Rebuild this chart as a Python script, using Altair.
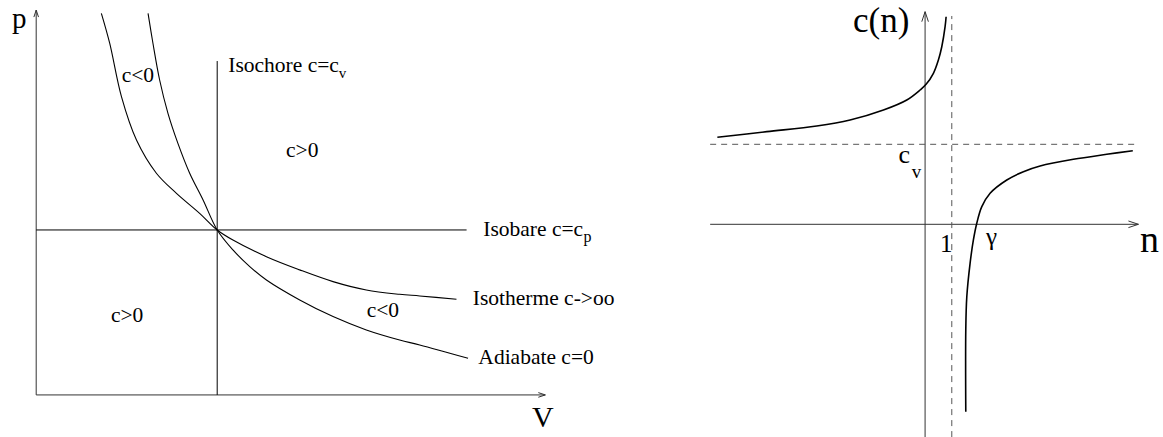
import altair as alt
import pandas as pd

# ---------------- p-V diagram: polytropes through the state (V=1, p=1) ----------------
isotherm_V = [0.360, 0.406, 0.471, 0.554, 0.664, 0.775, 0.903, 1.000, 1.087, 1.272,
              1.456, 1.640, 1.824, 2.008, 2.119, 2.322]
isotherm_p = [2.313, 2.132, 1.808, 1.545, 1.344, 1.222, 1.101, 1.000, 0.939, 0.838,
              0.758, 0.687, 0.636, 0.610, 0.600, 0.580]

adiabat_V = [0.618, 0.645, 0.682, 0.728, 0.783, 0.848, 0.922, 1.000, 1.087, 1.180,
             1.272, 1.456, 1.640, 1.824, 2.008, 2.119, 2.386]
adiabat_p = [2.313, 2.132, 1.909, 1.707, 1.525, 1.344, 1.182, 1.000, 0.879, 0.778,
             0.697, 0.576, 0.475, 0.394, 0.333, 0.303, 0.222]

isochore_V = 1.0
isochore_top = 2.024
isobar_p = 1.0
isobar_end = 2.378

# ---------------- heat capacity c(n) of a polytrope (c_v = 1, n = 1 asymptote) ----------------
branch_low_n = [-7.78, -5.93, -4.06, -2.81, -1.56, -0.685, -0.187, 0.037, 0.311, 0.498,
                0.625, 0.749, 0.787]
branch_low_c = [1.088, 1.158, 1.229, 1.304, 1.429, 1.554, 1.679, 1.750, 1.888, 2.054,
                2.220, 2.470, 2.595]
branch_high_n = [1.524, 1.524, 1.562, 1.685, 1.809, 1.936, 2.124, 2.434, 3.060, 3.682,
                 4.307, 5.554, 6.805, 7.779]
branch_high_c = [-2.343, -1.321, -0.905, -0.488, -0.196, 0.013, 0.220, 0.388, 0.554, 0.658,
                 0.729, 0.813, 0.875, 0.920]

FONT = "Liberation Serif"
ARROW = "M-0.33,1L0,0L0.33,1"


def curve_table(names, xs, ys):
    rows = []
    for name, xv, yv in zip(names, xs, ys):
        for i, (a, b) in enumerate(zip(xv, yv)):
            rows.append({"name": name, "i": i, "x": a, "y": b})
    return pd.DataFrame(rows)


def panel(xs, ys, axes, refs, curves, arrows, labels, width, height, curve_width, arrow_size):
    enc_x = lambda f: alt.X(f, type="quantitative", scale=xs, axis=None)
    enc_y = lambda f: alt.Y(f, type="quantitative", scale=ys, axis=None)

    axis_layer = alt.Chart(axes).mark_rule(color="#333333", strokeWidth=1).encode(
        x=enc_x("x"), x2="x2", y=enc_y("y"), y2="y2")
    layers = [axis_layer]
    ref_solid = refs[refs["dash"] == 0]
    ref_dash = refs[refs["dash"] == 1]
    if len(ref_solid):
        layers.append(alt.Chart(ref_solid).mark_rule(color="black", strokeWidth=1).encode(
            x=enc_x("x"), x2="x2", y=enc_y("y"), y2="y2"))
    if len(ref_dash):
        layers.append(alt.Chart(ref_dash).mark_rule(
            color="#555555", strokeWidth=1, strokeDash=[6, 5]).encode(
            x=enc_x("x"), x2="x2", y=enc_y("y"), y2="y2"))
    layers.append(alt.Chart(curves).mark_line(
        color="black", strokeWidth=curve_width, interpolate="catmull-rom").encode(
        x=enc_x("x"), y=enc_y("y"), detail="name:N", order="i:Q"))
    layers.append(alt.Chart(arrows).mark_point(
        shape=ARROW, filled=False, size=arrow_size, stroke="#333333",
        strokeWidth=1, opacity=1).encode(
        x=enc_x("x"), y=enc_y("y"), angle=alt.Angle("ang:Q", scale=None)))
    layers.append(alt.Chart(labels).mark_text(
        align="left", baseline="alphabetic", font=FONT, color="black").encode(
        x=enc_x("x"), y=enc_y("y"), text="t:N", size=alt.Size("fs:Q", scale=None)))
    return alt.layer(*layers).properties(width=width, height=height)


# ---- left panel ----
pv_x = alt.Scale(domain=[-0.2, 3.115], nice=False, zero=False)
pv_y = alt.Scale(domain=[-0.255, 2.394], nice=False, zero=False)

pv_axes = pd.DataFrame([
    {"x": 0.0, "x2": 0.0, "y": 0.0, "y2": 2.333},
    {"x": 0.0, "x2": 2.813, "y": 0.0, "y2": 0.0},
])
pv_refs = pd.DataFrame([
    {"x": isochore_V, "x2": isochore_V, "y": 0.0, "y2": isochore_top, "dash": 0},
    {"x": 0.0, "x2": isobar_end, "y": isobar_p, "y2": isobar_p, "dash": 0},
])
pv_curves = curve_table(["Isotherme", "Adiabate"], [isotherm_V, adiabat_V], [isotherm_p, adiabat_p])
pv_arrows = pd.DataFrame([
    {"x": 0.0, "y": 2.333, "ang": 0},
    {"x": 2.813, "y": 0.0, "ang": 90},
])
pv_labels = pd.DataFrame([
    {"t": "p", "x": -0.134, "y": 2.222, "fs": 29},
    {"t": "V", "x": 2.739, "y": -0.194, "fs": 30},
    {"t": "Isochore c=c", "x": 1.061, "y": 1.958, "fs": 21.5},
    {"t": "v", "x": 1.672, "y": 1.924, "fs": 15},
    {"t": "Isobare c=c", "x": 2.470, "y": 0.964, "fs": 21.5},
    {"t": "p", "x": 3.024, "y": 0.930, "fs": 16},
    {"t": "Isotherme c->oo", "x": 2.412, "y": 0.545, "fs": 21.5},
    {"t": "Adiabate c=0", "x": 2.443, "y": 0.185, "fs": 21.5},
    {"t": "c<0", "x": 0.472, "y": 1.897, "fs": 21.5},
    {"t": "c>0", "x": 1.380, "y": 1.442, "fs": 21.5},
    {"t": "c>0", "x": 0.413, "y": 0.442, "fs": 21.5},
    {"t": "c<0", "x": 1.826, "y": 0.473, "fs": 21.5},
])

left = panel(pv_x, pv_y, pv_axes, pv_refs, pv_curves, pv_arrows, pv_labels,
             600, 437, 1.1, 196)

# ---- right panel ----
cn_x = alt.Scale(domain=[-8.43, 8.91], nice=False, zero=False)
cn_y = alt.Scale(domain=[-2.659, 2.804], nice=False, zero=False)

cn_axes = pd.DataFrame([
    {"x": 0.0, "x2": 0.0, "y": -2.66, "y2": 2.658},
    {"x": -8.05, "x2": 7.99, "y": 0.0, "y2": 0.0},
])
cn_refs = pd.DataFrame([
    {"x": -8.05, "x2": 7.87, "y": 1.0, "y2": 1.0, "dash": 1},
    {"x": 1.0, "x2": 1.0, "y": -2.66, "y2": 2.604, "dash": 1},
])
cn_curves = curve_table(["n<1", "n>1"], [branch_low_n, branch_high_n], [branch_low_c, branch_high_c])
cn_arrows = pd.DataFrame([
    {"x": 0.0, "y": 2.658, "ang": 0},
    {"x": 7.99, "y": 0.0, "ang": 90},
])
cn_labels = pd.DataFrame([
    {"t": "c(n)", "x": -2.70, "y": 2.40, "fs": 35},
    {"t": "n", "x": 8.052, "y": -0.3425, "fs": 38},
    {"t": "1", "x": 0.562, "y": -0.3425, "fs": 25},
    {"t": "γ", "x": 2.285, "y": -0.259, "fs": 25},
    {"t": "c", "x": -1.0, "y": 0.7625, "fs": 26},
    {"t": "v", "x": -0.498, "y": 0.575, "fs": 19},
])

right = panel(cn_x, cn_y, cn_axes, cn_refs, cn_curves, cn_arrows, cn_labels,
              463, 437, 1.6, 400)

chart = alt.hconcat(left, right, spacing=100, bounds="flush").properties(
    padding=0, background="white"
).configure_view(stroke=None)

chart.save("out.html", embed_options={"renderer": "svg", "actions": False})
